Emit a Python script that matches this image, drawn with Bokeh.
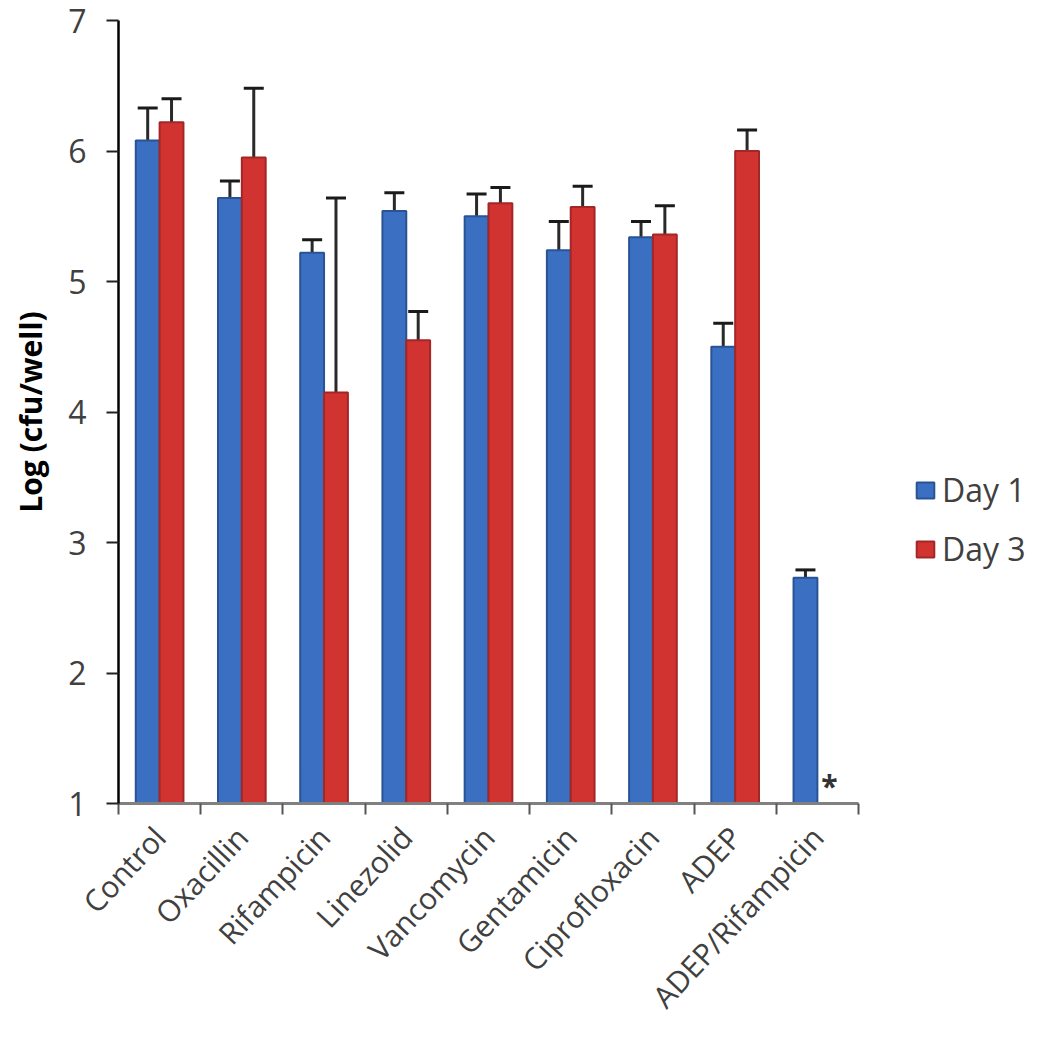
import numpy as np
from bokeh.plotting import figure
from bokeh.models import (ColumnDataSource, Range1d, FixedTicker, Whisker, TeeHead,
                          Legend, LegendItem)
from bokeh.core.properties import value
from bokeh.embed import file_html
from bokeh.resources import INLINE

# ---------------- data ----------------
categories = ["Control", "Oxacillin", "Rifampicin", "Linezolid", "Vancomycin",
              "Gentamicin", "Ciprofloxacin", "ADEP", "ADEP/Rifampicin"]
day1_mean = [6.08, 5.64, 5.22, 5.54, 5.50, 5.24, 5.34, 4.50, 2.73]
day1_upper = [6.33, 5.77, 5.32, 5.68, 5.67, 5.46, 5.46, 4.68, 2.79]
day3_mean = [6.22, 5.95, 4.15, 4.55, 5.60, 5.57, 5.36, 6.00, None]
day3_upper = [6.40, 6.48, 5.64, 4.77, 5.72, 5.73, 5.58, 6.16, None]
series_names = ["Day 1", "Day 3"]
y_ticks = [1, 2, 3, 4, 5, 6, 7]
significance_mark = "*"
y_label = "Log (cfu/well)"

# ---------------- styles ----------------
BLUE, BLUE_EDGE = "#3a6fc2", "#2a5396"
RED, RED_EDGE = "#d13330", "#a32727"
FONT = "Open Sans"
TXT = "#404040"

n = len(categories)
bar_w = 0.29
centers = np.arange(n) + 0.5
bounds_ticks = list(np.arange(n + 1).astype(float))

FIG_W, FIG_H = 1030, 1034
LEFT, TOP = 118, 20
FRAME_H = 783
BOTTOM = FIG_H - TOP - FRAME_H
AXIS_W = 740
frame_w = FIG_W - LEFT
x_end = n * frame_w / AXIS_W

p = figure(width=FIG_W, height=FIG_H, x_range=Range1d(0, x_end), y_range=Range1d(1, 7),
           output_backend="svg", toolbar_location=None,
           min_border_left=LEFT, min_border_right=0, min_border_top=TOP,
           min_border_bottom=BOTTOM)
p.xgrid.grid_line_color = None
p.ygrid.grid_line_color = None
p.outline_line_color = None
p.background_fill_color = "white"

# sources
d1_x = centers - bar_w / 2
src1 = ColumnDataSource(dict(x=d1_x, top=day1_mean, hi=day1_upper))
idx3 = [i for i, v in enumerate(day3_mean) if v is not None]
src3 = ColumnDataSource(dict(x=[centers[i] + bar_w / 2 for i in idx3],
                             top=[day3_mean[i] for i in idx3],
                             hi=[day3_upper[i] for i in idx3]))

r1 = p.vbar(x="x", top="top", bottom=1, width=bar_w, source=src1,
            fill_color=BLUE, line_color=BLUE_EDGE, line_width=2)
r3 = p.vbar(x="x", top="top", bottom=1, width=bar_w, source=src3,
            fill_color=RED, line_color=RED_EDGE, line_width=2)

for src in (src1, src3):
    w = Whisker(source=src, base="x", lower="top", upper="hi", dimension="height",
                line_color="#2a2a2a", line_width=3,
                upper_head=TeeHead(size=20, line_width=3, line_color="#1a1a1a"),
                lower_head=None)
    p.add_layout(w)

# significance mark where Day 3 bar is absent
miss = [i for i, v in enumerate(day3_mean) if v is None]
src_sig = ColumnDataSource(dict(x=[centers[i] + bar_w / 2 for i in miss],
                                y=[1.0] * len(miss), t=[significance_mark] * len(miss)))
p.text(x="x", y="y", text="t", source=src_sig, text_font=value(FONT),
       text_font_size="30px", text_font_style="bold", text_color="#333333",
       text_align="center", text_baseline="bottom", y_offset=2)

# x axis
xa = p.xaxis[0]
xa.ticker = FixedTicker(ticks=list(centers), minor_ticks=bounds_ticks)
xa.major_label_overrides = {float(c): lab for c, lab in zip(centers, categories)}
xa.bounds = (0, n)
xa.axis_line_color = "#808080"
xa.axis_line_width = 3
xa.major_tick_out = 0
xa.major_tick_in = 0
xa.minor_tick_out = 11
xa.minor_tick_in = 0
xa.minor_tick_line_color = "#555555"
xa.minor_tick_line_width = 2
xa.major_label_orientation = 0.82
xa.major_label_standoff = 17
xa.major_label_text_font = FONT
xa.major_label_text_font_size = "30px"
xa.major_label_text_color = TXT

# y axis
ya = p.yaxis[0]
ya.ticker = FixedTicker(ticks=y_ticks)
ya.bounds = (1, 7)
ya.axis_line_color = "black"
ya.axis_line_width = 2.5
ya.major_tick_line_color = "#222222"
ya.major_tick_line_width = 2
ya.major_tick_out = 12
ya.major_tick_in = 0
ya.minor_tick_line_color = None
ya.major_label_standoff = 20
ya.major_label_text_font = FONT
ya.major_label_text_font_size = "32px"
ya.major_label_text_color = TXT
ya.axis_label = y_label
ya.axis_label_text_font = FONT
ya.axis_label_text_font_size = "30px"
ya.axis_label_text_font_style = "bold"
ya.axis_label_text_color = "black"
ya.axis_label_standoff = 14

legend = Legend(items=[LegendItem(label=series_names[0], renderers=[r1]),
                       LegendItem(label=series_names[1], renderers=[r3])],
                location=(796, 233), orientation="vertical",
                label_text_font=FONT, label_text_font_size="32px", label_text_color=TXT,
                glyph_width=22, glyph_height=20, label_standoff=6, spacing=16,
                padding=0, margin=0, border_line_color=None, background_fill_alpha=0)
p.add_layout(legend)

open("out.html", "w").write(file_html(p, INLINE))
